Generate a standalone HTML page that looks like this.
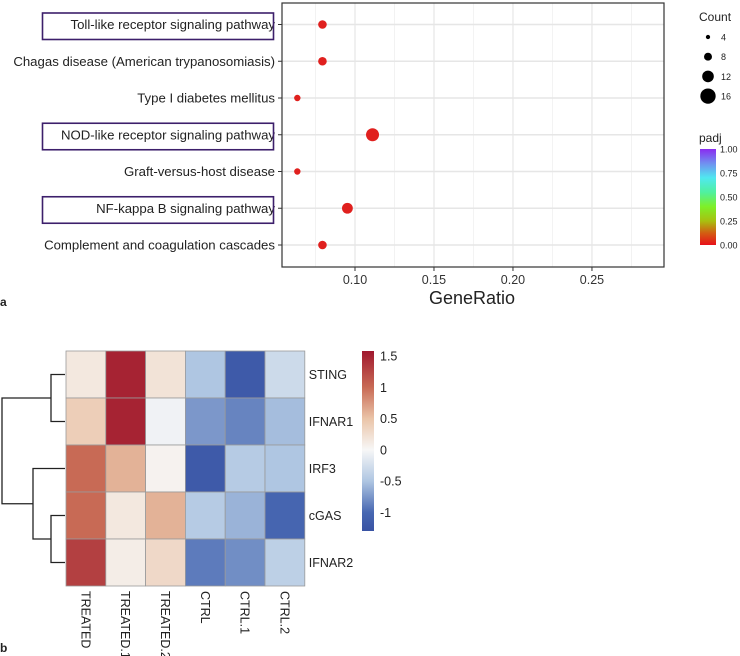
<!DOCTYPE html>
<html><head><meta charset="utf-8">
<style>
html,body{margin:0;padding:0;background:#fff;}
svg{display:block;font-family:"Liberation Sans",sans-serif;}
</style></head>
<body>
<svg id="fig" width="740" height="656" viewBox="0 0 740 656"></svg>
<script>
// ---------- Panel a data ----------
const pathways = ["Toll-like receptor signaling pathway","Chagas disease (American trypanosomiasis)","Type I diabetes mellitus","NOD-like receptor signaling pathway","Graft-versus-host disease","NF-kappa B signaling pathway","Complement and coagulation cascades"];
const geneRatio = [0.0794,0.0794,0.0635,0.1111,0.0635,0.0952,0.0794];
const counts = [5,5,4,7,4,6,5];
const padj = [0.0,0.0,0.0,0.0,0.0,0.0,0.0];
const boxed = [true,false,false,true,false,true,false];
const xTicks = [0.10,0.15,0.20,0.25];
const countLegend = [4,8,12,16];
const padjTicks = ["1.00","0.75","0.50","0.25","0.00"];
// ---------- Panel b data ----------
const genes = ["STING","IFNAR1","IRF3","cGAS","IFNAR2"];
const samples = ["TREATED","TREATED.1","TREATED.2","CTRL","CTRL.1","CTRL.2"];
const heat = [
 [0.15,1.5,0.2,-0.5,-1.2,-0.3],
 [0.4,1.5,-0.05,-0.75,-0.85,-0.55],
 [1.0,0.6,0.05,-1.2,-0.45,-0.5],
 [1.0,0.15,0.6,-0.45,-0.6,-1.05],
 [1.3,0.1,0.3,-0.9,-0.8,-0.4]];
const heatTicks = [1.5,1,0.5,0,-0.5,-1];

const NS="http://www.w3.org/2000/svg";
const svg=document.getElementById('fig');
function mk(tag,attrs,parent){const e=document.createElementNS(NS,tag);for(const k in attrs)e.setAttribute(k,attrs[k]);(parent||svg).appendChild(e);return e;}

// ---------- Panel a ----------
const pL=282,pR=664,pT=3,pB=267;
const xMin=0.0538,xMax=0.2956;
const xS=v=>pL+(v-xMin)/(xMax-xMin)*(pR-pL);
const rowY=i=>24.5+i*36.75;
const rS=c=>1.1*c-1.2;
const gA=mk('g',{});


mk('rect',{x:pL,y:pT,width:pR-pL,height:pB-pT,fill:'#fff'},gA);
for(let v=0.075;v<xMax;v+=0.05){const g=mk('line',{x1:xS(v),x2:xS(v),y1:pT,y2:pB,stroke:'#f0f0f0','stroke-width':0.8},gA);}
xTicks.forEach(v=>{const g=mk('line',{x1:xS(v),x2:xS(v),y1:pT,y2:pB,stroke:'#e6e6e6','stroke-width':1.2},gA);});
pathways.forEach((p,i)=>{const g=mk('line',{x1:pL,x2:pR,y1:rowY(i),y2:rowY(i),stroke:'#e6e6e6','stroke-width':1.4},gA);});
const frame=mk('rect',{x:pL,y:pT,width:pR-pL,height:pB-pT,fill:'none',stroke:'#333','stroke-width':1.2},gA);

pathways.forEach((p,i)=>{
  const y=rowY(i);
  mk('line',{x1:pL-4,x2:pL,y1:y,y2:y,stroke:'#333'},gA);
  const t=mk('text',{x:pL-7,y:y+4.5,'text-anchor':'end','font-size':13.2,fill:'#222'},gA);t.textContent=p;
  
  if(boxed[i]){const b=mk('rect',{x:42.5,y:y-11.5,width:231,height:26.5,fill:'none',stroke:'#3d1f6b','stroke-width':1.6},gA);}
  const c=mk('circle',{cx:xS(geneRatio[i]),cy:y,r:rS(counts[i]),fill:'#e0201e'},gA);
  
});
xTicks.forEach(v=>{
  mk('line',{x1:xS(v),x2:xS(v),y1:pB,y2:pB+4,stroke:'#333'},gA);
  const t=mk('text',{x:xS(v),y:pB+17,'text-anchor':'middle','font-size':12.5,fill:'#333'},gA);t.textContent=v.toFixed(2);
  
});
let t=mk('text',{x:472,y:304,'text-anchor':'middle','font-size':18,fill:'#222'},gA);t.textContent='GeneRatio';

t=mk('text',{x:0,y:306,'font-size':12,'font-weight':'bold',fill:'#222'});t.textContent='a';

t=mk('text',{x:699,y:21,'font-size':12,fill:'#222'});t.textContent='Count';

countLegend.forEach((c,i)=>{
  const y=37+i*19.7;
  const d=mk('circle',{cx:708,cy:y,r:0.46*c+0.3,fill:'#000'});
  const l=mk('text',{x:721,y:y+3.5,'font-size':9,fill:'#222'});l.textContent=c;
});
t=mk('text',{x:699,y:142,'font-size':12,fill:'#222'});t.textContent='padj';

const defs=mk('defs',{});
const lg=mk('linearGradient',{id:'rb',x1:0,y1:1,x2:0,y2:0},defs);
[['0','#e8101a'],['0.12','#d45a12'],['0.25','#a8c010'],['0.4','#7ef028'],['0.55','#50f0a0'],['0.7','#50e8f0'],['0.85','#7090f0'],['1','#8a2cf0']].forEach(s=>mk('stop',{offset:s[0],'stop-color':s[1]},lg));
const pb=mk('rect',{x:700,y:149,width:16,height:96,fill:'url(#rb)'});
padjTicks.forEach((s,i)=>{const y=149+i*24;const l=mk('text',{x:720,y:y+3.5,'font-size':9,fill:'#222'});l.textContent=s;});

// ---------- Panel b ----------
const hL=66,hT=351,cw=39.8,ch=47;
const stops=[[-1.3,[57,83,164]],[-1.0,[72,104,178]],[-0.5,[175,198,226]],[0,[247,247,247]],[0.5,[234,196,168]],[1.0,[200,106,85]],[1.58,[160,24,46]]];
function col(v){for(let i=0;i<stops.length-1;i++){const a=stops[i],b=stops[i+1];if(v<=b[0]||i==stops.length-2){const f=Math.max(0,Math.min(1,(v-a[0])/(b[0]-a[0])));return 'rgb('+a[1].map((c,k)=>Math.round(c+(b[1][k]-c)*f)).join(',')+')';}}}
const gB=mk('g',{});
heat.forEach((row,r)=>row.forEach((v,c)=>{
  const e=mk('rect',{x:hL+c*cw,y:hT+r*ch,width:cw,height:ch,fill:col(v),stroke:'#9a9a9a','stroke-width':0.8},gB);
  
}));
genes.forEach((g,r)=>{const l=mk('text',{x:hL+6*cw+4,y:hT+r*ch+ch/2+4.5,'font-size':12.5,fill:'#222'},gB);l.textContent=g;});
samples.forEach((s,c)=>{const x=hL+c*cw+cw/2-4.5;const l=mk('text',{x:x,y:hT+5*ch+5,'font-size':12.5,fill:'#222',transform:'rotate(90 '+x+' '+(hT+5*ch+5)+')'},gB);l.textContent=s;});
const rc=r=>hT+r*ch+ch/2;
const dg=mk('path',{fill:'none',stroke:'#222','stroke-width':1.3,d:
 `M65,${rc(0)}H51V${rc(1)}H65 M65,${rc(3)}H51V${rc(4)}H65 M65,${rc(2)}H33V${(rc(3)+rc(4))/2}H51 M51,${(rc(0)+rc(1))/2}H2V${(rc(2)+(rc(3)+rc(4))/2)/2}H33`});

const cbT=351,cbB=531,vTop=1.58,vBot=-1.3;
const cy=v=>cbT+(vTop-v)/(vTop-vBot)*(cbB-cbT);
const lg2=mk('linearGradient',{id:'hb',x1:0,y1:1,x2:0,y2:0},defs);
stops.forEach(s=>mk('stop',{offset:((s[0]-vBot)/(vTop-vBot)).toFixed(3),'stop-color':'rgb('+s[1].join(',')+')'},lg2));
const cb=mk('rect',{x:362,y:cbT,width:12,height:cbB-cbT,fill:'url(#hb)'});
heatTicks.forEach(v=>{const l=mk('text',{x:380,y:cy(v)+4.5,'font-size':12.5,fill:'#222'});l.textContent=String(v);});
t=mk('text',{x:0,y:652,'font-size':12,'font-weight':'bold',fill:'#222'});t.textContent='b';

</script>
</body></html>
